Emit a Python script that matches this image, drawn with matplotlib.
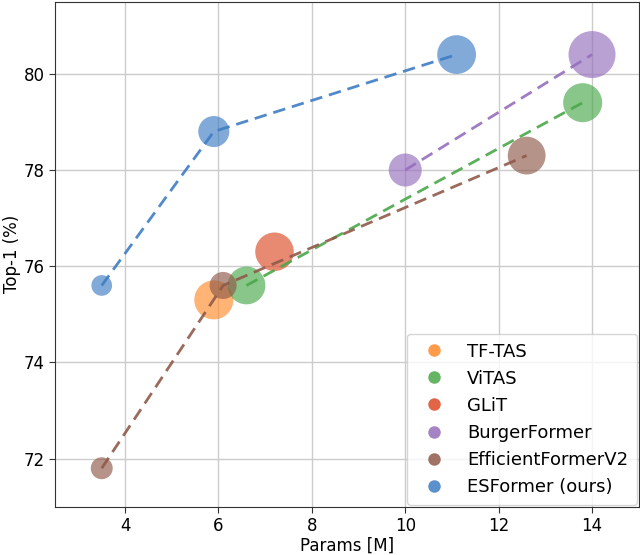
import matplotlib.pyplot as plt
from matplotlib.lines import Line2D

# models: params (M), top-1 (%), bubble size
names = ['TF-TAS', 'ViTAS', 'GLiT', 'BurgerFormer', 'EfficientFormerV2', 'ESFormer (ours)']
colors = ['#ff8a2a', '#4aa84a', '#dd4a25', '#966fbc', '#8f5a4a', '#3f7dc4']

tftas_params = [5.9]
tftas_acc = [75.3]
tftas_size = [790]

vitas_params = [6.6, 13.8]
vitas_acc = [75.6, 79.4]
vitas_size = [740, 790]

glit_params = [7.2]
glit_acc = [76.3]
glit_size = [770]

burger_params = [10.0, 14.0]
burger_acc = [78.0, 80.4]
burger_size = [565, 1145]

effv2_params = [3.5, 6.1, 12.6]
effv2_acc = [71.8, 75.6, 78.3]
effv2_size = [250, 380, 740]

esformer_params = [3.5, 5.9, 11.1]
esformer_acc = [75.6, 78.8, 80.4]
esformer_size = [222, 500, 780]

series = [
    (tftas_params, tftas_acc, tftas_size),
    (vitas_params, vitas_acc, vitas_size),
    (glit_params, glit_acc, glit_size),
    (burger_params, burger_acc, burger_size),
    (effv2_params, effv2_acc, effv2_size),
    (esformer_params, esformer_acc, esformer_size),
]

plt.rcParams['font.family'] = 'DejaVu Sans'
fig = plt.figure(figsize=(6.4, 5.55), dpi=100)
ax = fig.add_axes([0.086, 0.087, 0.912, 0.91])

for (px, py, ps), c in zip(series, colors):
    ax.scatter(px, py, s=ps, color=c, alpha=0.65, edgecolors='none', zorder=3)
    if len(px) > 1:
        ax.plot(px, py, '--', color=c, lw=2, alpha=0.9, dashes=(4.5, 2.5), zorder=4)

ax.set_xlim(2.5, 15)
ax.set_ylim(71, 81.5)
ax.set_xticks([4, 6, 8, 10, 12, 14])
ax.set_yticks([72, 74, 76, 78, 80])
ax.grid(True, color='#cccccc', lw=1, zorder=0)
ax.set_axisbelow(True)
for sp in ax.spines.values():
    sp.set_color('#333333')
ax.tick_params(labelsize=12, color='#333333', length=4)
ax.set_xlabel('Params [M]', fontsize=12, labelpad=1)
ax.set_ylabel('Top-1 (%)', fontsize=12, labelpad=2)

handles = [Line2D([], [], marker='o', ls='none', ms=9, color=c, alpha=0.85,
                  markeredgewidth=0) for c in colors]
ax.legend(handles, names, loc='lower right', fontsize=13, borderaxespad=0.1,
          handletextpad=0.8, labelspacing=0.5, borderpad=0.5, edgecolor='#cccccc')

fig.savefig('out.png')
